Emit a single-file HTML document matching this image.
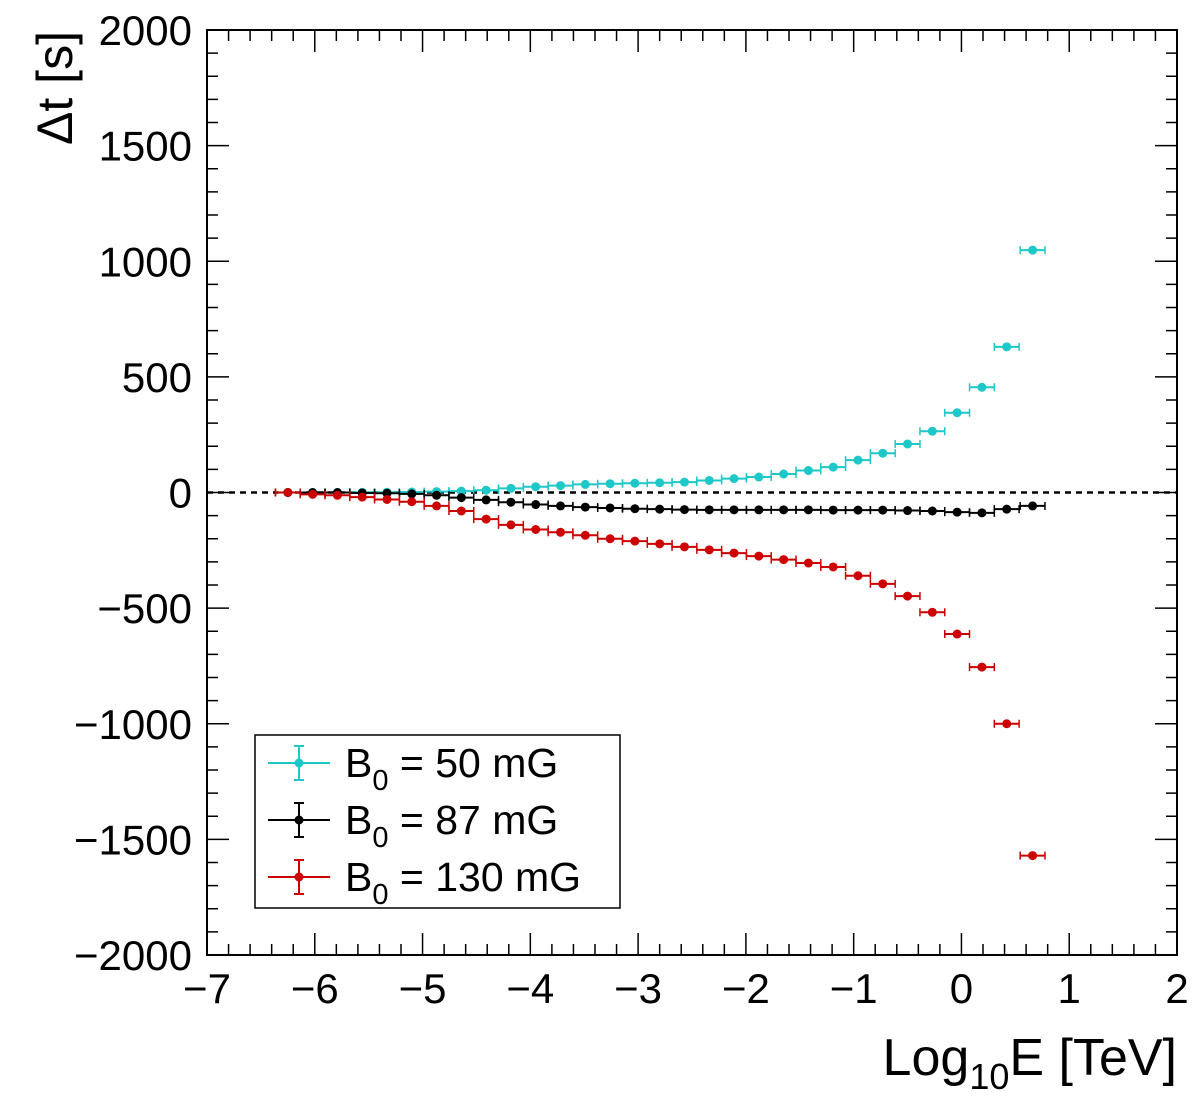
<!DOCTYPE html>
<html><head><meta charset="utf-8"><style>
body{margin:0;background:#fff;}
svg text{font-family:"Liberation Sans",Helvetica,sans-serif;}
</style></head><body>
<svg id="chart" width="1200" height="1110" xmlns="http://www.w3.org/2000/svg">
<g id="axes"></g>
<g id="marks"></g>
<text transform="translate(72,145) rotate(-90)" font-size="50" text-anchor="start">Δt [s]</text>
<text x="1177" y="1075" font-size="52" text-anchor="end">Log<tspan font-size="36" dy="14">10</tspan><tspan dy="-14">E [TeV]</tspan></text>
<g>
<rect x="255" y="735" width="365" height="173" fill="#fff" stroke="#000" stroke-width="1.5"/>
<g>
<line x1="268" y1="763" x2="330" y2="763" stroke="#1ec8c8" stroke-width="2"/><line x1="299" y1="746" x2="299" y2="780" stroke="#1ec8c8" stroke-width="2"/><line x1="294" y1="746" x2="304" y2="746" stroke="#1ec8c8" stroke-width="2"/><line x1="294" y1="780" x2="304" y2="780" stroke="#1ec8c8" stroke-width="2"/><circle cx="299" cy="763" r="4.5" fill="#1ec8c8"/>
<text x="345" y="777" font-size="41">B<tspan font-size="29" dy="13">0</tspan><tspan dy="-13"> = 50 mG</tspan></text></g>
<g>
<line x1="268" y1="820" x2="330" y2="820" stroke="#000" stroke-width="2"/><line x1="299" y1="803" x2="299" y2="837" stroke="#000" stroke-width="2"/><line x1="294" y1="803" x2="304" y2="803" stroke="#000" stroke-width="2"/><line x1="294" y1="837" x2="304" y2="837" stroke="#000" stroke-width="2"/><circle cx="299" cy="820" r="4.5" fill="#000"/>
<text x="345" y="834" font-size="41">B<tspan font-size="29" dy="13">0</tspan><tspan dy="-13"> = 87 mG</tspan></text></g>
<g>
<line x1="268" y1="877" x2="330" y2="877" stroke="#cc0000" stroke-width="2"/><line x1="299" y1="860" x2="299" y2="894" stroke="#cc0000" stroke-width="2"/><line x1="294" y1="860" x2="304" y2="860" stroke="#cc0000" stroke-width="2"/><line x1="294" y1="894" x2="304" y2="894" stroke="#cc0000" stroke-width="2"/><circle cx="299" cy="877" r="4.5" fill="#cc0000"/>
<text x="345" y="891" font-size="41">B<tspan font-size="29" dy="13">0</tspan><tspan dy="-13"> = 130 mG</tspan></text></g>
</g>
</svg>
<script>
const xCenters=[-6.25,-6.02,-5.79,-5.56,-5.33,-5.10,-4.87,-4.64,-4.41,-4.18,-3.95,-3.72,-3.49,-3.26,-3.03,-2.80,-2.57,-2.34,-2.11,-1.88,-1.65,-1.42,-1.19,-0.96,-0.73,-0.50,-0.27,-0.04,0.19,0.42,0.66];
const cyanValues=[0,0,0,1,1,2,4,6,10,18,25,30,35,38,40,42,45,52,60,67,80,95,110,140,170,210,265,345,455,630,1048];
const blackValues=[0,0,0,-2,-3,-6,-12,-22,-32,-42,-52,-58,-63,-67,-70,-72,-74,-75,-75,-75,-75,-75,-76,-76,-76,-78,-80,-85,-88,-72,-58];
const redValues=[0,-8,-12,-20,-30,-40,-58,-80,-115,-140,-160,-172,-185,-200,-210,-222,-235,-248,-262,-275,-290,-305,-322,-360,-395,-448,-518,-612,-755,-1000,-1570];
const xTicks=[-7,-6,-5,-4,-3,-2,-1,0,1,2];
const yTicks=[-2000,-1500,-1000,-500,0,500,1000,1500,2000];
const X0=207,X1=1177,Y0=955,Y1=30;
const sx=v=>X0+(v+7)/9*(X1-X0);
const sy=v=>Y0-(v+2000)/4000*(Y0-Y1);
const NS='http://www.w3.org/2000/svg';
function mk(tag,attrs,parent){const e=document.createElementNS(NS,tag);for(const k in attrs)e.setAttribute(k,attrs[k]);parent.appendChild(e);return e;}
const ax=document.getElementById('axes'),mg=document.getElementById('marks');
const frame=mk('rect',{x:X0,y:Y1,width:X1-X0,height:Y0-Y1,fill:'none',stroke:'#000','stroke-width':2},ax);


for(let v=-7;v<=2.001;v+=0.2){const x=sx(v);const maj=Math.abs(v-Math.round(v))<1e-6;const L=maj?22:11;
mk('line',{x1:x,y1:Y0,x2:x,y2:Y0-L,stroke:'#000','stroke-width':1.5},ax);mk('line',{x1:x,y1:Y1,x2:x,y2:Y1+L,stroke:'#000','stroke-width':1.5},ax);}
for(let v=-2000;v<=2000;v+=100){const y=sy(v);const maj=v%500===0;const L=maj?22:11;
mk('line',{x1:X0,y1:y,x2:X0+L,y2:y,stroke:'#000','stroke-width':1.5},ax);mk('line',{x1:X1,y1:y,x2:X1-L,y2:y,stroke:'#000','stroke-width':1.5},ax);}
xTicks.forEach(v=>{const t=mk('text',{x:sx(v),y:1003,'font-size':42,'text-anchor':'middle'},ax);t.textContent=String(v).replace('-','\u2212');

});
yTicks.forEach(v=>{const t=mk('text',{x:192,y:sy(v)+15,'font-size':42,'text-anchor':'end'},ax);t.textContent=String(v).replace('-','\u2212');

});
const zl=mk('line',{x1:X0,y1:sy(0),x2:X1,y2:sy(0),stroke:'#000','stroke-width':2.5,'stroke-dasharray':'6,5'},ax);


function series(vals,col,name){
const g=mk('g',{},mg);


vals.forEach((v,i)=>{const x=sx(xCenters[i]),y=sy(v),h=0.115/9*(X1-X0);
mk('line',{x1:x-h,y1:y,x2:x+h,y2:y,stroke:col,'stroke-width':2},g);
mk('line',{x1:x-h,y1:y-4,x2:x-h,y2:y+4,stroke:col,'stroke-width':1.5},g);
mk('line',{x1:x+h,y1:y-4,x2:x+h,y2:y+4,stroke:col,'stroke-width':1.5},g);
const c=mk('circle',{cx:x,cy:y,r:4.5,fill:col},g);

});}
series(cyanValues,'#1ec8c8','series-50mG');
series(blackValues,'#000','series-87mG');
series(redValues,'#cc0000','series-130mG');
</script>
</body></html>
